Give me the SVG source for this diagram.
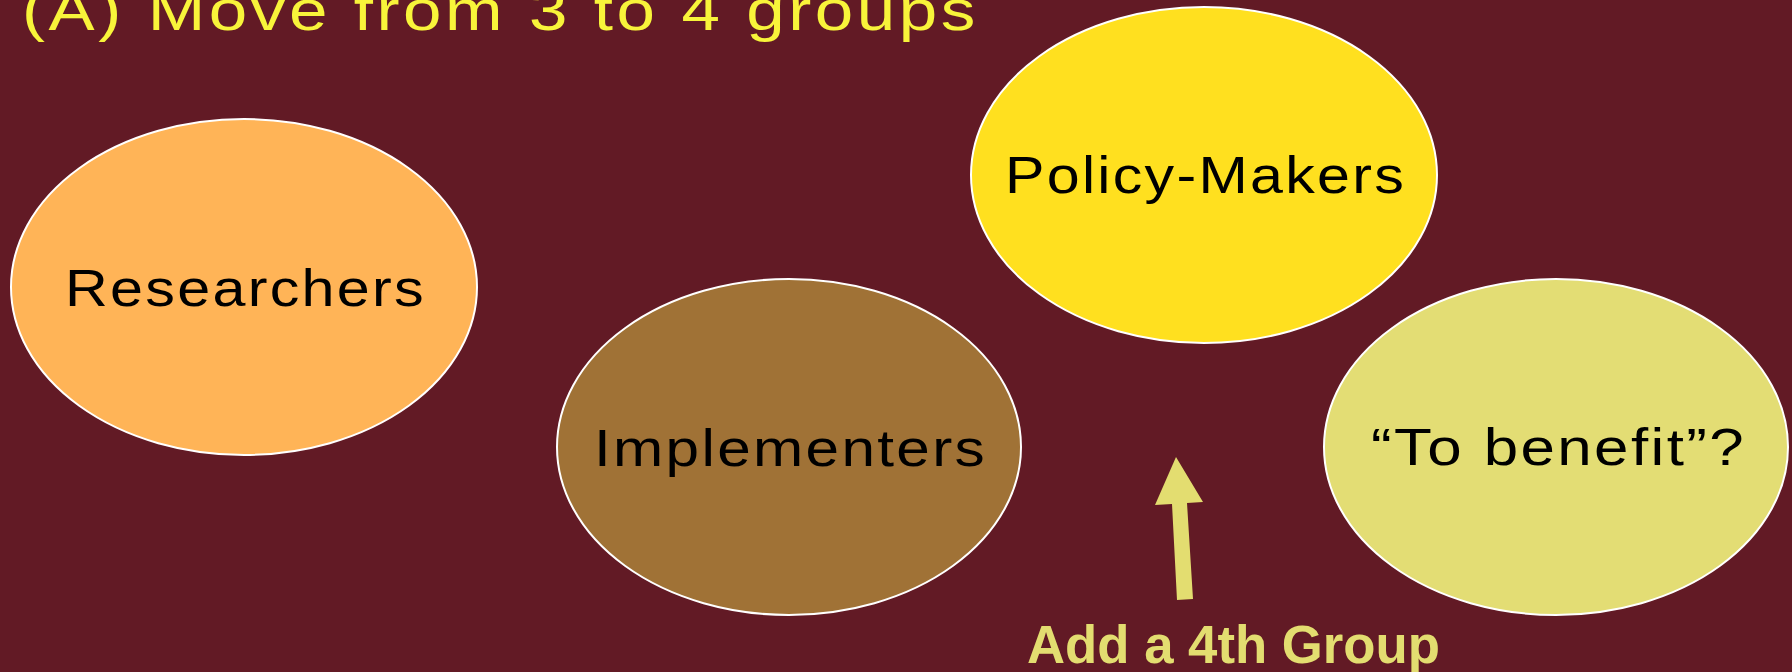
<svg xmlns="http://www.w3.org/2000/svg" width="1792" height="672" viewBox="0 0 1792 672">
<style>
.node{stroke:#FFFFFF;stroke-width:2}
.lbl{font-family:"Liberation Sans",Arial,sans-serif;font-size:52px;letter-spacing:2px;fill:#000000}
.title{font-family:"Liberation Sans",Arial,sans-serif;font-size:58px;letter-spacing:3px;fill:#F8F43A}
.note{font-family:"Liberation Sans",Arial,sans-serif;font-size:53px;font-weight:bold;fill:#E3DD70}
</style>
<rect x="0" y="0" width="1792" height="672" fill="#621A25"/>
<text class="title" x="22" y="30" textLength="957" lengthAdjust="spacingAndGlyphs">(A) Move from 3 to 4 groups</text>
<g id="researchers">
<ellipse class="node" cx="244" cy="287" rx="233" ry="168" fill="#FFB457"/>
<text class="lbl" x="65" y="306" textLength="361" lengthAdjust="spacingAndGlyphs">Researchers</text>
</g>
<g id="implementers">
<ellipse class="node" cx="789" cy="447" rx="232" ry="168" fill="#A07236"/>
<text class="lbl" x="594" y="466" textLength="393" lengthAdjust="spacingAndGlyphs">Implementers</text>
</g>
<g id="policy-makers">
<ellipse class="node" cx="1204" cy="175" rx="233" ry="168" fill="#FFE01F"/>
<text class="lbl" x="1005" y="193" textLength="401" lengthAdjust="spacingAndGlyphs">Policy-Makers</text>
</g>
<g id="to-benefit">
<ellipse class="node" cx="1556" cy="447" rx="232" ry="168" fill="#E3DD74"/>
<text class="lbl" x="1371" y="465" textLength="375" lengthAdjust="spacingAndGlyphs">“To benefit”?</text>
</g>
<g id="connectors">
<polygon points="1176,457 1203,502 1187,503 1193,599 1177,600 1172,504 1155,505" fill="#E3DD70"/>
</g>
<g id="add-label">
<text class="note" x="1027" y="663" textLength="413" lengthAdjust="spacingAndGlyphs">Add a 4th Group</text>
</g>
</svg>
